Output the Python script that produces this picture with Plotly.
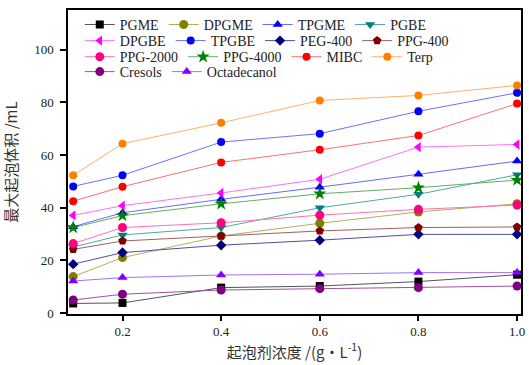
import plotly.graph_objects as go

conc = [0.1, 0.2, 0.4, 0.6, 0.8, 1.0]

names = ["PGME", "DPGME", "TPGME", "PGBE", "DPGBE", "TPGBE", "PEG-400", "PPG-400",
         "PPG-2000", "PPG-4000", "MIBC", "Terp", "Cresols", "Octadecanol"]

PGME = [3.7, 3.9, 9.7, 10.3, 12.0, 14.6]
DPGME = [13.9, 21.1, 29.3, 34.1, 38.4, 41.5]
TPGME = [32.8, 38.1, 43.2, 47.8, 52.7, 57.7]
PGBE = [25.1, 29.7, 32.5, 40.0, 45.1, 52.5]
DPGBE = [37.1, 40.8, 45.6, 50.8, 63.0, 64.0]
TPGBE = [48.1, 52.3, 64.9, 68.1, 76.6, 83.6]
PEG400 = [18.6, 23.0, 25.8, 27.7, 29.9, 29.9]
PPG400 = [24.2, 27.4, 29.3, 31.2, 32.5, 32.7]
PPG2000 = [26.4, 32.5, 34.3, 37.2, 39.4, 41.0]
PPG4000 = [32.5, 37.0, 41.5, 45.3, 47.6, 50.5]
MIBC = [42.5, 48.0, 57.2, 62.0, 67.4, 79.5]
Terp = [52.3, 64.3, 72.2, 80.7, 82.6, 86.4]
Cresols = [5.0, 7.2, 8.8, 9.3, 9.7, 10.3]
Octadecanol = [12.2, 13.5, 14.5, 14.8, 15.4, 15.4]

series = [PGME, DPGME, TPGME, PGBE, DPGBE, TPGBE, PEG400, PPG400,
          PPG2000, PPG4000, MIBC, Terp, Cresols, Octadecanol]

colors = ["#000000", "#808000", "#0000FF", "#008080", "#FF00FF", "#0000FF", "#000080",
          "#800000", "#FF0080", "#008000", "#FF0000", "#FF8000", "#800080", "#8000FF"]
symbols = ["square", "circle", "triangle-up", "triangle-down", "triangle-left", "circle",
           "diamond", "pentagon", "circle", "star", "circle", "circle", "circle", "triangle-up"]
sizes = [8, 9, 9, 9, 9, 8, 8, 9, 9, 10, 8, 8, 9, 9]
line_colors = ["#555555", "#b0b060", "#6a6aff", "#50a8a8", "#ff70ff", "#7070ff", "#5050a0",
               "#a06060", "#ff70b0", "#60b060", "#ff7070", "#ffb070", "#a050a0", "#a070ff"]

# one horizontal legend per row (4 entries per row)
legend_ids = ["legend", "legend2", "legend3", "legend4"]

fig = go.Figure()
for i, (n, ys) in enumerate(zip(names, series)):
    fig.add_trace(go.Scatter(
        x=conc, y=ys, name=n, mode="lines+markers",
        line=dict(color=line_colors[i], width=1),
        marker=dict(symbol=symbols[i], color=colors[i], size=sizes[i]),
        legend=legend_ids[i // 4],
    ))

font_serif = "Liberation Serif, Times New Roman, serif"
cjk = "Noto Sans CJK SC"

leg_common = dict(
    orientation="h", bgcolor="rgba(0,0,0,0)", borderwidth=0,
    font=dict(family=font_serif, size=14, color="#222222"),
    xanchor="left", yanchor="middle", x=0.026, itemwidth=30,
)
row_y = [0.951, 0.898, 0.845, 0.796]
layout_legends = {}
for k, lid in enumerate(legend_ids):
    layout_legends[lid] = dict(leg_common, y=row_y[k])

fig.update_layout(
    width=529, height=365,
    margin=dict(l=68, r=4, t=10, b=51),
    paper_bgcolor="white", plot_bgcolor="white",
    showlegend=True,
    **layout_legends,
    xaxis=dict(
        range=[0.0895, 1.008], tickvals=[0.2, 0.4, 0.6, 0.8, 1.0], tickformat=".1f",
        showline=True, linecolor="black", linewidth=1.5, mirror=True,
        ticks="outside", ticklen=5, tickwidth=1.5, tickcolor="black",
        showgrid=False, zeroline=False,
        tickfont=dict(family=font_serif, size=13, color="#222222"),
        title=dict(text="起泡剂浓度 /(g·L<sup>-1</sup>)", font=dict(family=cjk, size=15, color="#333333"),
                   standoff=8),
    ),
    yaxis=dict(
        range=[-0.3, 115], tickvals=[0, 20, 40, 60, 80, 100],
        showline=True, linecolor="black", linewidth=1.5, mirror=True,
        ticks="outside", ticklen=6, tickwidth=1.5, tickcolor="black",
        ticklabelstandoff=4,
        showgrid=False, zeroline=False,
        tickfont=dict(family=font_serif, size=13, color="#222222"),
        title=dict(text="最大起泡体积 /mL", font=dict(family=cjk, size=15, color="#333333"),
                   standoff=14),
    ),
)

fig.write_html("out.html")
